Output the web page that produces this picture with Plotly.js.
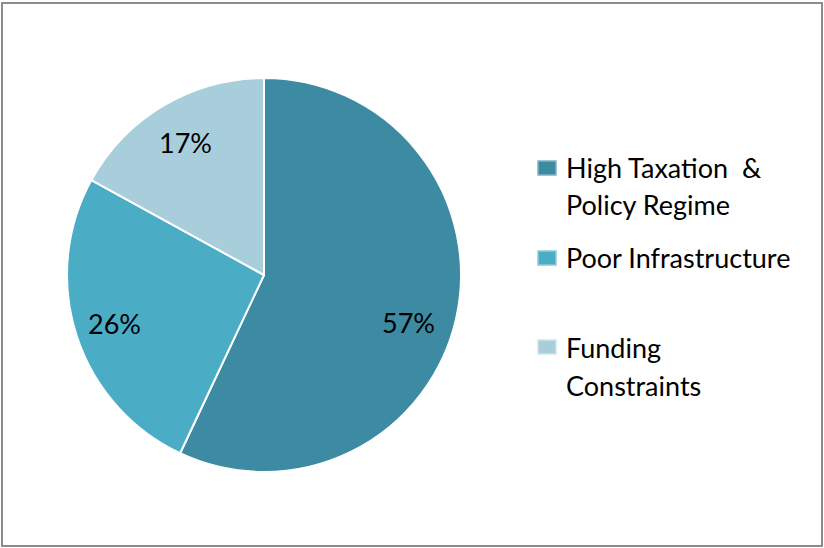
<!DOCTYPE html>
<html>
<head>
<meta charset="utf-8">
<script src="https://cdn.plot.ly/plotly-3.0.1.min.js"></script>
<style>html,body{margin:0;padding:0;background:#fff;}#chart{width:824px;height:548px;}</style>
</head>
<body>
<div id="chart"></div>
<script>
// Data
const categories = ["High Taxation & Policy Regime", "Poor Infrastructure", "Funding Constraints"];
const values = [57, 26, 17];
const legendLines = [["High Taxation  &", "Policy Regime"], ["Poor Infrastructure"], ["Funding", "Constraints"]];
const colors = ["#3D8BA2", "#4BACC6", "#A8CEDC"];
const edgeColors = ["#7FB3C4", "#8CCBDB", "#D0E5EC"];
// small label nudges (px) to mimic the original placement
const labelNudge = [[-5, 15], [-3, 3], [0, 1]];

const W = 824, H = 548;
const px = x => x / W;
const py = y => 1 - y / H;
const FONT = "Lato, 'Open Sans', sans-serif";

const cx = 264, cy = 275, R = 197;

const trace = {
  type: "pie",
  labels: categories,
  values: values,
  sort: false,
  direction: "clockwise",
  rotation: 0,
  marker: { colors: colors, line: { color: "#ffffff", width: 2 } },
  textinfo: "none",
  textposition: "none",
  hoverinfo: "label+percent",
  showlegend: false,
  domain: { x: [px(cx - R), px(cx + R)], y: [py(cy + R), py(cy - R)] }
};

const shapes = [
  { type: "rect", xref: "paper", yref: "paper", x0: px(2), x1: px(822), y0: py(546), y1: py(3),
    line: { color: "#8C8C8C", width: 2 }, fillcolor: "rgba(0,0,0,0)", layer: "above" }
];
const annotations = [];

// percentage labels placed at the slice mid-angles
const total = values.reduce((a, b) => a + b, 0);
let cum = 0;
values.forEach((v, i) => {
  const mid = (cum + v / 2) / total * 2 * Math.PI;
  cum += v;
  const r = 0.78 * R;
  const x = cx + r * Math.sin(mid) + labelNudge[i][0];
  const y = cy - r * Math.cos(mid) + labelNudge[i][1];
  annotations.push({ xref: "paper", yref: "paper", x: px(x), y: py(y - 1.5),
    xanchor: "center", yanchor: "middle", showarrow: false,
    text: Math.round(v / total * 100) + "%",
    font: { family: FONT, size: 27, color: "#000000" } });
});

const markerY = [168, 258, 347];
const lineY = [[168.5, 205.5], [259], [348.5, 386.5]];
for (let i = 0; i < categories.length; i++) {
  shapes.push({ type: "rect", xref: "paper", yref: "paper",
    x0: px(538), x1: px(556), y0: py(markerY[i] + 7), y1: py(markerY[i] - 7),
    fillcolor: colors[i], line: { color: edgeColors[i], width: 1.5 } });
  legendLines[i].forEach((t, j) => {
    annotations.push({ xref: "paper", yref: "paper", x: px(564), y: py(lineY[i][j] - 1.5),
      xanchor: "left", yanchor: "middle", showarrow: false, text: t,
      font: { family: FONT, size: 27, color: "#000000" } });
  });
}

const layout = {
  width: W, height: H,
  margin: { l: 0, r: 0, t: 0, b: 0 },
  paper_bgcolor: "#ffffff",
  plot_bgcolor: "#ffffff",
  showlegend: false,
  shapes: shapes,
  annotations: annotations
};

Plotly.newPlot("chart", [trace], layout, { displayModeBar: false, staticPlot: true });
</script>
</body>
</html>
